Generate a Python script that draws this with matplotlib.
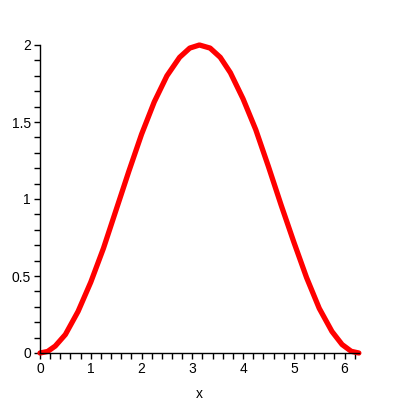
import matplotlib
matplotlib.use("Agg")
import matplotlib.pyplot as plt
from matplotlib.ticker import MultipleLocator

plt.rcParams['font.family'] = ['Liberation Sans', 'DejaVu Sans']

# values
x = [0, 0.15, 0.3, 0.5, 0.75, 1.0, 1.25, 1.5, 1.75, 2.0, 2.25, 2.5, 2.75, 2.95, 3.14,
     3.35, 3.55, 3.75, 4.0, 4.25, 4.5, 4.75, 5.0, 5.25, 5.5, 5.75, 5.95, 6.13, 6.28]
y = [0, 0.01, 0.045, 0.12, 0.27, 0.46, 0.68, 0.93, 1.18, 1.42, 1.63, 1.80, 1.92, 1.98, 2.0,
     1.98, 1.92, 1.82, 1.65, 1.45, 1.21, 0.96, 0.72, 0.49, 0.29, 0.14, 0.055, 0.011, 0.0]
xticks = [0, 1, 2, 3, 4, 5, 6]
yticks = [0, 0.5, 1, 1.5, 2]
ytick_labels = ["0", "0.5", "1", "1.5", "2"]

fig = plt.figure(figsize=(4, 4), dpi=100)
ax = fig.add_axes([0.1, 0.1175, 0.7975, 0.77])

ax.plot(x, y, color="red", linewidth=3.8, solid_joinstyle="round",
        solid_capstyle="round", clip_on=False)

ax.set_xlim(0, 6.2832)
ax.set_ylim(0, 2)

for s in ["top", "right"]:
    ax.spines[s].set_visible(False)
ax.spines["left"].set_linewidth(1)
ax.spines["bottom"].set_linewidth(1)

ax.set_xticks(xticks)
ax.set_yticks(yticks)
ax.set_yticklabels(ytick_labels)
ax.xaxis.set_minor_locator(MultipleLocator(0.2))
ax.yaxis.set_minor_locator(MultipleLocator(0.1))
ax.tick_params(which="both", direction="out", length=4.5, width=1, labelsize=10, pad=2)

ax.set_xlabel("x", fontsize=10, labelpad=8)

fig.savefig("out.png", dpi=100)
